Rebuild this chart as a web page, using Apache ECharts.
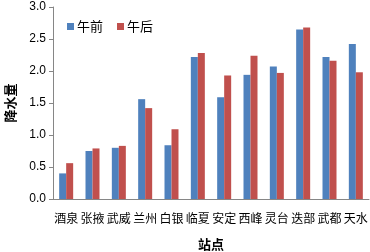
<!DOCTYPE html>
<html>
<head>
<meta charset="utf-8">
<script src="https://cdn.jsdelivr.net/npm/echarts@6/dist/echarts.min.js"></script>
<style>
  html, body { margin: 0; padding: 0; background: #fff; }
  #chart { width: 370px; height: 252px; }
</style>
</head>
<body>
<div id="chart"></div>
<script>
// 站点
var stations = ['酒泉', '张掖', '武威', '兰州', '白银', '临夏', '安定', '西峰', '灵台', '迭部', '武都', '天水'];
// 午前 / 午后 降水量
var before = [0.40, 0.75, 0.80, 1.56, 0.84, 2.22, 1.59, 1.94, 2.07, 2.65, 2.22, 2.42];
var after = [0.56, 0.79, 0.83, 1.42, 1.09, 2.28, 1.93, 2.24, 1.97, 2.68, 2.16, 1.98];
var yTicks = ['0.0', '0.5', '1.0', '1.5', '2.0', '2.5', '3.0'];

var cjk = '"Noto Sans CJK SC", sans-serif';
var myChart = echarts.init(document.getElementById('chart'));

myChart.setOption({
  animation: false,
  color: ['#4F81BD', '#C0504D'],
  grid: { left: 53, right: 1, top: 7, bottom: 53, outerBoundsMode: 'none' },
  legend: {
    left: 62, top: 15,
    itemWidth: 7, itemHeight: 7, itemGap: 14,
    icon: 'rect',
    textStyle: { fontFamily: cjk, fontSize: 13, color: '#000', padding: [0, 0, 0, -2] },
    data: ['午前', '午后']
  },
  xAxis: {
    type: 'category',
    data: stations,
    name: '站点',
    nameLocation: 'middle',
    nameGap: 39,
    nameTextStyle: { fontFamily: cjk, fontSize: 13, fontWeight: 'bold', color: '#000' },
    axisLine: { lineStyle: { color: '#868686' } },
    axisTick: { show: false },
    axisLabel: { interval: 0, fontFamily: cjk, fontSize: 12, color: '#000', margin: 13 }
  },
  yAxis: {
    type: 'value',
    min: 0, max: 3, interval: 0.5,
    name: '降水量',
    nameLocation: 'middle',
    nameGap: 36,
    nameRotate: 90,
    nameTextStyle: { fontFamily: cjk, fontSize: 13, fontWeight: 'bold', color: '#000' },
    splitLine: { show: false },
    axisLine: { show: true, lineStyle: { color: '#868686' } },
    axisTick: { show: true, length: 4, lineStyle: { color: '#868686' } },
    axisLabel: {
      fontFamily: 'Liberation Sans, Arial, sans-serif', fontSize: 12, color: '#000', margin: 7,
      formatter: function (v) { return yTicks[Math.round(v * 2)]; }
    }
  },
  series: [
    { name: '午前', type: 'bar', data: before, barWidth: 7, barGap: '0%' },
    { name: '午后', type: 'bar', data: after, barWidth: 7, barGap: '0%' }
  ]
});
</script>
</body>
</html>
